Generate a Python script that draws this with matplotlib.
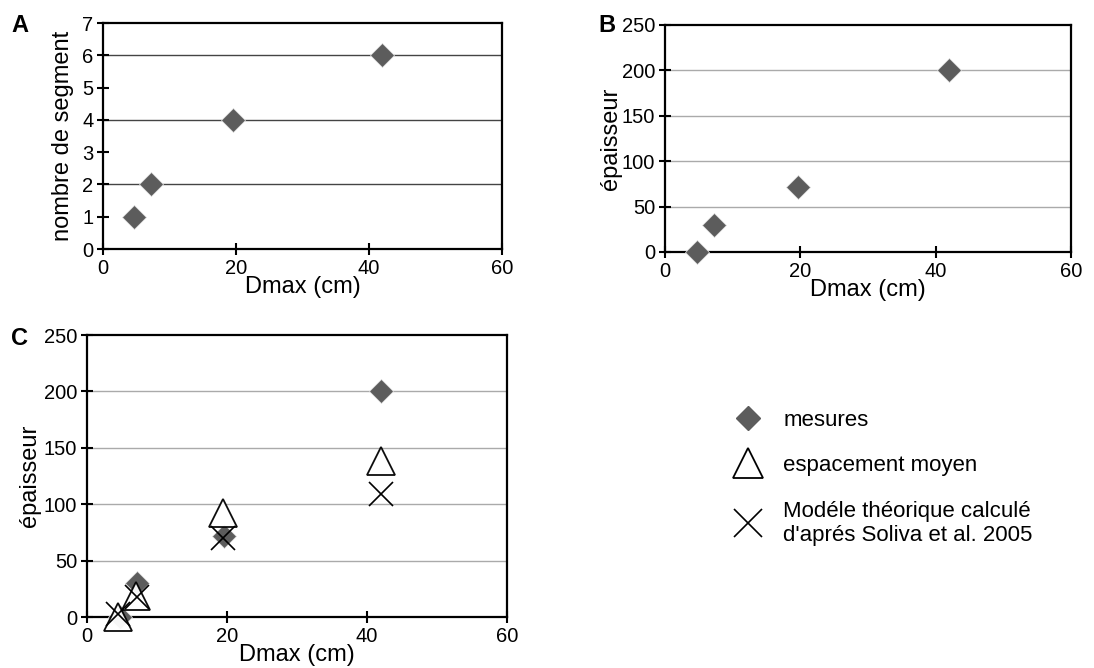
import matplotlib.pyplot as plt
from matplotlib.lines import Line2D

plt.rcParams['font.family'] = ['Liberation Sans', 'DejaVu Sans']

# data
dmax = [4.7, 7.2, 19.6, 42.0]
nb_segment = [1, 2, 4, 6]
epaisseur = [0, 30, 72, 200]

dmax_esp = [4.4, 7.0, 19.4, 42.0]
espacement = [0, 19, 92, 138]

dmax_mod = [4.4, 7.1, 19.5, 42.0]
modele = [3, 18, 70, 109]

legend_labels = ['mesures', 'espacement moyen',
                 "Modéle théorique calculé\nd'aprés Soliva et al. 2005"]

diamond_color = '#5c5c5c'

fig = plt.figure(figsize=(10.94, 6.68), dpi=100)
ax_a = fig.add_axes([0.0942, 0.6272, 0.3647, 0.3383])
ax_b = fig.add_axes([0.6079, 0.6228, 0.3711, 0.3398])
ax_c = fig.add_axes([0.0795, 0.0763, 0.3839, 0.4222])


def style(ax, ylim, yticks, grid_vals, grid_color):
    ax.set_xlim(0, 60)
    ax.set_ylim(*ylim)
    ax.set_xticks([0, 20, 40, 60])
    ax.set_yticks(yticks)
    for v in grid_vals:
        ax.axhline(v, color=grid_color, lw=1.0, zorder=0)
    for s in ax.spines.values():
        s.set_linewidth(1.6)
        s.set_color('black')
    ax.tick_params(direction='inout', length=8, width=1.5, labelsize=14.5, pad=3)
    ax.set_xlabel('Dmax (cm)', fontsize=17, labelpad=-1)


diamond = dict(ls='none', marker='D', color=diamond_color, ms=12.5,
               mec='#e0e0e0', mew=0.5, zorder=3, clip_on=False)

style(ax_a, (0, 7), range(0, 8), [2, 4, 6], '#444444')
ax_a.plot(dmax, nb_segment, **diamond)
ax_a.set_ylabel('nombre de segment', fontsize=17, labelpad=6)

style(ax_b, (0, 250), range(0, 251, 50), [50, 100, 150, 200], '#aaaaaa')
ax_b.plot(dmax, epaisseur, **diamond)
ax_b.set_ylabel('épaisseur', fontsize=17, labelpad=0)

style(ax_c, (0, 250), range(0, 251, 50), [50, 100, 150, 200], '#aaaaaa')
ax_c.plot(dmax, epaisseur, **diamond)
ax_c.plot(dmax_esp, espacement, '^', ms=20, mfc='white', mec='black', mew=1.3,
          zorder=4, alpha=0.95, clip_on=False)
ax_c.plot(dmax_mod, modele, 'x', ms=17, color='black', mew=1.2, zorder=5,
          clip_on=False)
ax_c.set_ylabel('épaisseur', fontsize=17, labelpad=2)

fig.text(0.010, 0.952, 'A', fontsize=17, fontweight='bold')
fig.text(0.547, 0.952, 'B', fontsize=17, fontweight='bold')
fig.text(0.010, 0.484, 'C', fontsize=17, fontweight='bold')

handles = [
    Line2D([], [], ls='none', marker='D', color=diamond_color, ms=12),
    Line2D([], [], ls='none', marker='^', ms=21, mfc='white', mec='black', mew=1.3),
    Line2D([], [], ls='none', marker='x', ms=20, color='black', mew=1.2),
]
fig.legend(handles, legend_labels, loc='upper left',
           bbox_to_anchor=(0.657, 0.40), frameon=False, fontsize=16,
           labelspacing=1.1, handletextpad=0.7, handlelength=1.8,
           borderaxespad=0)

fig.savefig('out.png', dpi=100)
